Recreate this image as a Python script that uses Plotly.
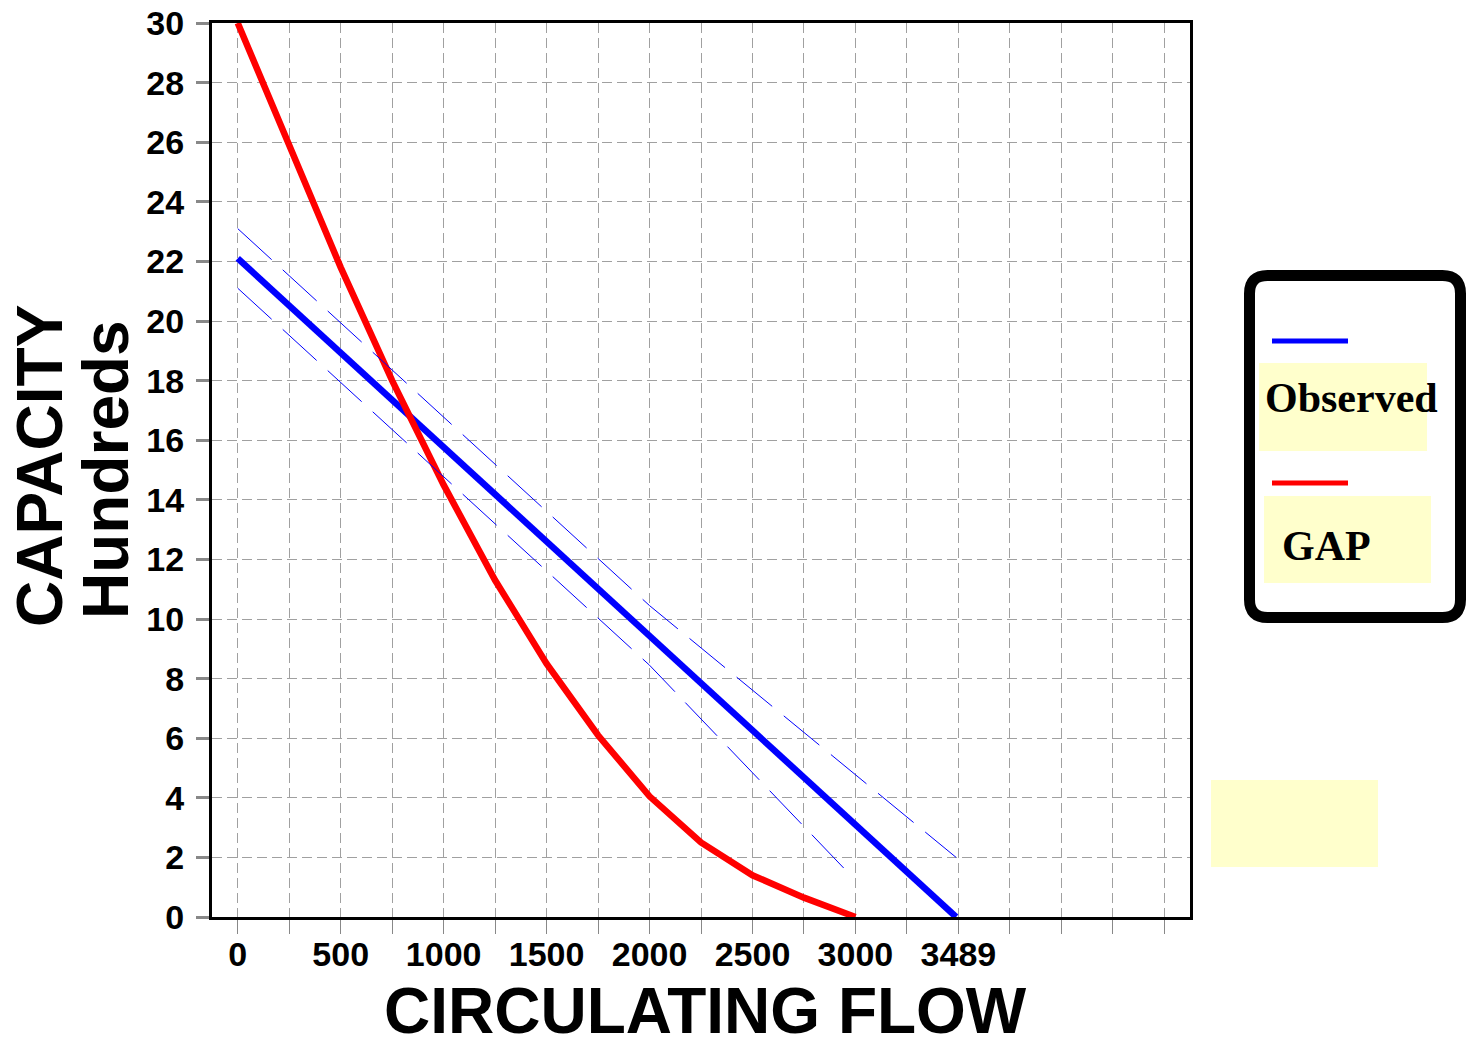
import plotly.graph_objects as go

# ---- data ----
obs_x = [0, 3489]
obs_y = [22.1, 0.0]

upper_x = [0, 2000, 3489]
upper_y = [23.1, 10.45, 2.0]

lower_x = [0, 2000, 2963]
lower_y = [21.1, 8.45, 1.5]

gap_x = [0, 250, 500, 750, 1000, 1250, 1500, 1750, 2000, 2250, 2500, 2750, 3000]
gap_y = [30.0, 25.9, 21.8, 18.0, 14.5, 11.3, 8.5, 6.1, 4.05, 2.5, 1.4, 0.65, 0.0]

x_tickvals = list(range(0, 4750, 250))
x_ticktext = ["0", "", "500", "", "1000", "", "1500", "", "2000", "", "2500", "",
              "3000", "", "3489", "", "", "", ""]
y_tickvals = list(range(0, 32, 2))

W, H = 1467, 1039
L, R, T, B = 212, 1190, 23, 917


def px(x):
    return (x - L) / (R - L)


def py(y):
    return (B - y) / (B - T)


fig = go.Figure()
fig.add_trace(go.Scatter(x=obs_x, y=obs_y, mode="lines",
                         line=dict(color="#0000ff", width=6.5), showlegend=False))
fig.add_trace(go.Scatter(x=gap_x, y=gap_y, mode="lines",
                         line=dict(color="#ff0000", width=6.5), showlegend=False))
fig.add_trace(go.Scatter(x=upper_x, y=upper_y, mode="lines",
                         line=dict(color="#0000ff", width=1, dash="46px,15px"), showlegend=False))
fig.add_trace(go.Scatter(x=lower_x, y=lower_y, mode="lines",
                         line=dict(color="#0000ff", width=1, dash="46px,15px"), showlegend=False))

font_axis = dict(family="Liberation Sans, Arial, sans-serif", size=34, color="black", weight="bold")

fig.update_xaxes(range=[-125, 4625], tickmode="array", tickvals=x_tickvals, ticktext=x_ticktext,
                 showgrid=True, gridcolor="#a0a0a0", gridwidth=1, griddash="10px,5px",
                 showline=True, linecolor="black", linewidth=3, mirror=True,
                 ticks="outside", ticklen=14, tickwidth=1, tickcolor="#888888",
                 tickfont=font_axis, ticklabelstandoff=-9, zeroline=False, automargin=False)
fig.update_yaxes(range=[0, 30], tickmode="array", tickvals=y_tickvals,
                 showgrid=True, gridcolor="#a0a0a0", gridwidth=1, griddash="10px,5px",
                 showline=True, linecolor="black", linewidth=3, mirror=True,
                 ticks="outside", ticklen=13, tickwidth=3, tickcolor="#888888",
                 tickfont=font_axis, ticklabelstandoff=5, zeroline=False, automargin=False)

shapes = []
# legend rounded box
x0, x1, y0, y1, r = 1249.5, 1460.5, 275.5, 617.5, 18
path = (f"M {px(x0 + r)},{py(y0)} L {px(x1 - r)},{py(y0)} Q {px(x1)},{py(y0)} {px(x1)},{py(y0 + r)} "
        f"L {px(x1)},{py(y1 - r)} Q {px(x1)},{py(y1)} {px(x1 - r)},{py(y1)} "
        f"L {px(x0 + r)},{py(y1)} Q {px(x0)},{py(y1)} {px(x0)},{py(y1 - r)} "
        f"L {px(x0)},{py(y0 + r)} Q {px(x0)},{py(y0)} {px(x0 + r)},{py(y0)} Z")
shapes.append(dict(type="path", xref="paper", yref="paper", path=path,
                   line=dict(color="black", width=11), fillcolor="white", layer="above"))
# yellow rectangles
for (a, b, c, d) in [(1259, 363, 1427, 451), (1264, 496, 1431, 583), (1211, 780, 1378, 867)]:
    shapes.append(dict(type="rect", xref="paper", yref="paper",
                       x0=px(a), x1=px(c), y0=py(d), y1=py(b),
                       line=dict(width=0), fillcolor="#ffffcc", layer="above"))
# legend lines
shapes.append(dict(type="line", xref="paper", yref="paper", x0=px(1272), x1=px(1348),
                   y0=py(341), y1=py(341), line=dict(color="#0000ff", width=5), layer="above"))
shapes.append(dict(type="line", xref="paper", yref="paper", x0=px(1272), x1=px(1348),
                   y0=py(483), y1=py(483), line=dict(color="#ff0000", width=5), layer="above"))

serif = dict(family="Liberation Serif, Times New Roman, serif", size=42, color="black", weight="bold")
title_font = dict(family="Liberation Sans, Arial, sans-serif", size=64, color="black", weight="bold")
annotations = [
    dict(text="Observed", xref="paper", yref="paper", x=px(1263), y=py(398),
         xanchor="left", yanchor="middle", showarrow=False, font=serif),
    dict(text="GAP", xref="paper", yref="paper", x=px(1280), y=py(546),
         xanchor="left", yanchor="middle", showarrow=False, font=serif),
    dict(text="CIRCULATING FLOW", xref="paper", yref="paper", x=px(705), y=py(1011),
         xanchor="center", yanchor="middle", showarrow=False, font=title_font),
    dict(text="CAPACITY", xref="paper", yref="paper", x=px(40), y=py(466), textangle=-90,
         xanchor="center", yanchor="middle", showarrow=False, font=title_font),
    dict(text="Hundreds", xref="paper", yref="paper", x=px(106), y=py(470), textangle=-90,
         xanchor="center", yanchor="middle", showarrow=False, font=title_font),
]

fig.update_layout(width=W, height=H, margin=dict(l=L, r=W - R, t=T, b=H - B),
                  plot_bgcolor="white", paper_bgcolor="white",
                  shapes=shapes, annotations=annotations, showlegend=False)

fig.write_html("out.html")
